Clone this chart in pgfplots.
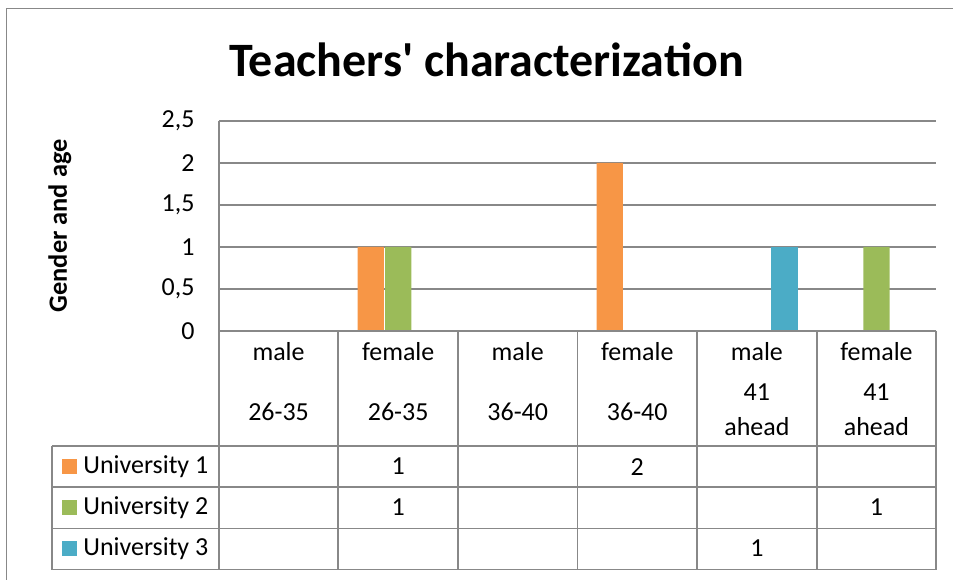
\documentclass[border=0pt]{standalone}
\usepackage{fontspec}
\setmainfont{Carlito}[Ligatures=TeXOff]
\usepackage{pgfplots}
\pgfplotsset{compat=1.18}
\definecolor{uorange}{HTML}{F79646}
\definecolor{ugreen}{HTML}{9BBB59}
\definecolor{ublue}{HTML}{4BACC6}
\definecolor{linegray}{HTML}{888888}

\begin{document}
\begin{tikzpicture}
% pixel grid of the reference: 1px = 0.5pt, y downwards
\begin{scope}[x=0.5pt, y=-0.5pt]
  \path (0,0) rectangle (954,580);
  \draw[linegray, line width=0.8pt] (6.5,580) -- (6.5,8.5) -- (954,8.5);
  \node[font=\bfseries\fontsize{24}{28}\selectfont] at (487,60) {Teachers' characterization};
\end{scope}

\begin{axis}[
  at={(109.5pt,-165.5pt)}, anchor=south west,
  scale only axis, width=359pt, height=105pt,
  xmin=0.5, xmax=6.5, ymin=0, ymax=2.5,
  xtick=\empty,
  ytick={0,0.5,1,1.5,2,2.5},
  yticklabels={0,{0,5},1,{1,5},2,{2,5}},
  yticklabel style={font=\fontsize{13}{15}\selectfont, anchor=east, inner sep=0pt, xshift=-12pt},
  major tick length=0pt,
  ymajorgrids, grid style={linegray, line width=0.9pt},
  axis y line*=left, axis x line*=bottom,
  axis line style={linegray, line width=0.9pt},
  ylabel={Gender and age},
  ylabel style={font=\bfseries\fontsize{13.2}{15}\selectfont, at={(axis description cs:-0.2214,0.5)}, anchor=center},
  clip=false,
]
\addplot[ybar, fill=uorange, draw=none, bar width=0.22, bar shift=-0.23] coordinates {(2,1) (4,2)};
\addplot[ybar, fill=ugreen, draw=none, bar width=0.22, bar shift=0] coordinates {(2,1) (6,1)};
\addplot[ybar, fill=ublue, draw=none, bar width=0.22, bar shift=0.23] coordinates {(5,1)};
\end{axis}

% data table below the axis
\begin{scope}[x=0.5pt, y=-0.5pt, font=\fontsize{13}{15}\selectfont]
  \draw[linegray, line width=0.9pt] (219,331) -- (937,331);
  \foreach \xx in {219,338.67,458.33,578,697.67,817.33,937}
    \draw[linegray, line width=0.9pt] (\xx,331) -- (\xx,570);
  \draw[linegray, line width=0.9pt] (52,446) -- (937,446);
  \draw[linegray, line width=0.9pt] (52,487.5) -- (937,487.5);
  \draw[linegray, line width=0.9pt] (52,529) -- (937,529);
  \draw[linegray, line width=0.9pt] (52,570) -- (937,570);
  \draw[linegray, line width=0.9pt] (52,446) -- (52,570);
  % header
  \foreach \cx/\g/\a in {278.8/male/26-35, 398.5/female/26-35, 518.2/male/36-40, 637.8/female/36-40} {
    \node at (\cx,352) {\g};
    \node at (\cx,412) {\a};
  }
  \foreach \cx/\g in {757.5/male, 877.2/female} {
    \node at (\cx,352) {\g};
    \node at (\cx,392) {41};
    \node at (\cx,427) {ahead};
  }
  % legend keys
  \fill[uorange] (62,459.5) rectangle (77,474.5);
  \fill[ugreen]  (62,500.5) rectangle (77,515.5);
  \fill[ublue]   (62,541.5) rectangle (77,556.5);
  \node[anchor=west, inner sep=0pt] at (83,467) {University 1};
  \node[anchor=west, inner sep=0pt] at (83,508) {University 2};
  \node[anchor=west, inner sep=0pt] at (83,549) {University 3};
  % values
  \node at (398.5,467) {1};
  \node at (637.8,467) {2};
  \node at (398.5,508) {1};
  \node at (877.2,508) {1};
  \node at (757.5,549) {1};
\end{scope}
\end{tikzpicture}
\end{document}
